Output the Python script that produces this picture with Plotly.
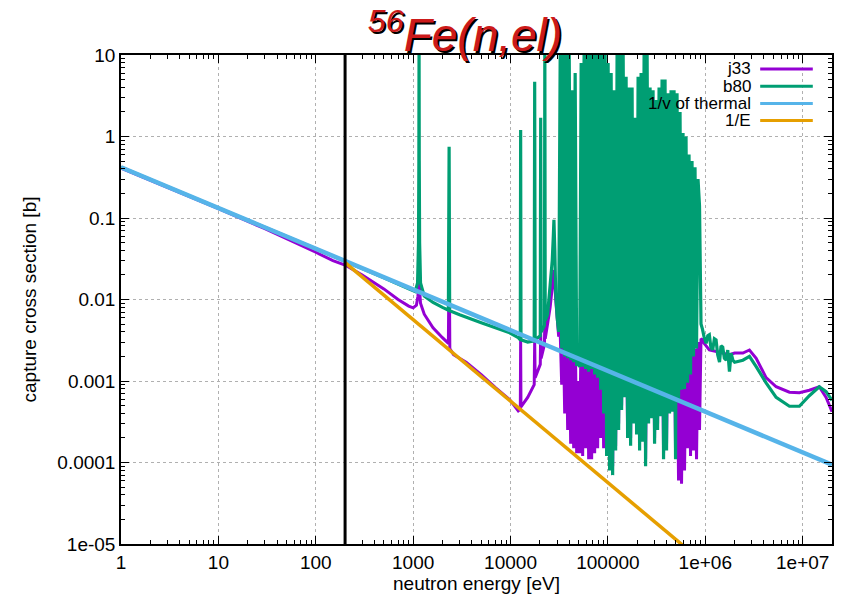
import plotly.graph_objects as go

# ---------------- data ----------------
j33_low_E = [1, 10, 30, 100, 150, 200, 300, 500, 700, 900, 1000, 1080, 1120, 1140, 1150, 1160, 1190,
             1300, 1600, 2000, 2300, 2345, 2380, 2600, 3500, 5000, 7000, 9800, 12000, 12600, 12700,
             12800, 15000, 17500, 17700, 17900, 20200, 20400, 20600, 22300, 22500, 22700, 24000,
             25500, 26800, 27500, 27900, 28500]
j33_low_s = [0.41, 0.13, 0.074, 0.038, 0.030, 0.0265, 0.020, 0.0135, 0.010, 0.0083, 0.0079, 0.0085,
             0.011, 0.016, 0.019, 0.014, 0.009, 0.0066, 0.0045, 0.0034, 0.0029, 0.05, 0.0025, 0.0021,
             0.0017, 0.0012, 0.00083, 0.00059, 0.00043, 0.00045, 0.0032, 0.00048, 0.00063, 0.0009,
             0.003, 0.0011, 0.0016, 0.004, 0.0019, 0.0028, 0.006, 0.0033, 0.005, 0.008, 0.014, 0.02,
             0.023, 0.016]

b80_low_E = [1, 10, 100, 200, 500, 900, 1050, 1110, 1135, 1145, 1150, 1155, 1165, 1190, 1300, 1600,
             2000, 2300, 2340, 2370, 3000, 5000, 7000, 9800, 12000, 12600, 12700, 12800, 15000, 17500,
             17700, 17900, 20200, 20400, 20600, 22300, 22500, 22700, 24000, 25500, 26800, 27500,
             27900, 28500]
b80_low_s = [0.42, 0.133, 0.042, 0.0295, 0.0185, 0.0135, 0.0125, 0.016, 0.05, 0.5, 15, 0.5, 0.05,
             0.016, 0.011, 0.0092, 0.0080, 0.0074, 0.75, 0.0073, 0.0065, 0.0052, 0.0045, 0.0039,
             0.0034, 0.0032, 1.2, 0.0032, 0.003, 0.0031, 4.7, 0.0032, 0.0036, 1.7, 0.004, 0.0048, 15,
             0.0055, 0.0065, 0.015, 0.03, 0.06, 0.095, 0.04]

dense_E_keV = [29.08, 30.13, 31.22, 32.34, 33.51, 34.72, 35.97, 37.27, 38.61, 40.00,
               41.45, 42.94, 44.49, 46.09, 47.76, 49.48, 51.26, 53.11, 55.03, 57.01,
               59.07, 61.20, 63.40, 65.69, 68.06, 70.51, 73.06, 75.69, 78.42, 81.25,
               84.18, 87.21, 90.36, 93.62, 96.99, 100.5, 104.1, 107.9, 111.8, 115.8,
               120.0, 124.3, 128.8, 133.4, 138.2, 143.2, 148.4, 153.7, 159.3, 165.0,
               171.0, 177.1, 183.5, 190.1, 197.0, 204.1, 211.5, 219.1, 227.0, 235.2,
               243.6, 252.4, 261.5, 270.9, 280.7, 290.8, 301.3, 312.2, 323.5, 335.1,
               347.2, 359.7, 372.7, 386.1, 400.0, 414.5, 429.4, 444.9, 460.9, 477.6,
               494.8, 512.6, 531.1, 550.3, 570.1, 590.7, 612.0, 634.0, 656.9, 680.6,
               705.1, 730.5, 756.9, 784.2, 812.4, 841.7, 872.1, 903.5, 936.1, 969.8]

b80_dense_s = [0.012, 0.006, 0.004, 10, 0.0025, 15, 0.002, 15, 0.0019, 15,
               0.0018, 3.7, 0.0017, 6, 0.0016, 0.0016, 0.0015, 8, 0.0015, 15,
               0.0014, 15, 0.0013, 15, 0.0014, 15, 0.0012, 15, 0.0011, 15,
               7.8e-4, 15, 4e-4, 12, 1.2e-4, 8, 8e-5, 6, 7e-5, 3.7,
               1.4e-4, 15, 2.5e-4, 15, 4.4e-4, 15, 6.3e-4, 5.4, 2e-4, 4,
               1.6e-4, 4, 3e-4, 1.7, 2.2e-4, 5.4, 1.4e-4, 6, 1.8e-4, 10,
               9e-5, 15, 3e-4, 4, 3.5e-4, 3.7, 1.7e-4, 2.8, 2.5e-4, 4,
               3.7e-4, 5, 1.1e-4, 5, 1.4e-4, 3.4, 4e-4, 3.7, 4.2e-4, 3.7,
               1.1e-4, 3.4, 6e-4, 2, 7.8e-4, 1.1, 8e-4, 1.0, 9.5e-4, 0.6,
               1.2e-3, 0.5, 2e-3, 0.42, 2.5e-3, 0.3, 0.14, 0.005, 0.0043, 0.0035]

j33_dense_s = [0.01, 0.006, 0.0035, 0.004, 9e-4, 0.005, 4e-4, 0.005, 2.5e-4, 0.006,
               1.7e-4, 0.004, 1.5e-4, 0.005, 1.3e-4, 0.001, 1.3e-4, 0.005, 1.2e-4, 0.006,
               1.5e-4, 0.006, 1.1e-4, 0.006, 1.1e-4, 0.006, 1.3e-4, 0.006, 1.5e-4, 0.006,
               2e-4, 0.008, 1.5e-4, 0.008, 1.3e-4, 0.008, 1e-4, 0.008, 9e-5, 0.006,
               1.6e-4, 0.01, 3e-4, 0.01, 5e-4, 0.01, 7e-4, 0.008, 2.5e-4, 0.008,
               2e-4, 0.008, 3.5e-4, 0.005, 2.8e-4, 0.008, 1.8e-4, 0.008, 2.2e-4, 0.01,
               1.1e-4, 0.01, 3.5e-4, 0.008, 4e-4, 0.008, 2e-4, 0.006, 3e-4, 0.008,
               4.3e-4, 0.008, 1.3e-4, 0.008, 1.7e-4, 0.006, 4.5e-4, 0.006, 4.5e-4, 0.006,
               1.3e-4, 0.004, 6e-5, 0.003, 5.5e-5, 0.003, 8e-5, 0.003, 1.5e-4, 0.003,
               1.2e-4, 0.0025, 1.4e-4, 0.0025, 1.1e-4, 0.003, 2.5e-4, 0.0033, 0.0032, 0.0029]

b80_fast_E_MeV = [1.02, 1.06, 1.10, 1.14, 1.19, 1.24, 1.29, 1.34, 1.40, 1.45, 1.51, 1.57, 1.64,
                  1.70, 1.77, 1.84, 1.92, 2.0, 2.43, 2.84, 3.33, 4.21, 5.34, 7.31, 9.25, 11.7,
                  14.8, 17.4, 20.0]
b80_fast_s = [0.0029, 0.0036, 0.0037, 0.0026, 0.0024, 0.0033, 0.0032, 0.0021, 0.0017, 0.0027,
              0.0026, 0.0019, 0.0018, 0.0024, 0.0013, 0.0022, 0.0018, 0.0017, 0.0018, 0.0020,
              0.0015, 9.5e-4, 6.3e-4, 4.9e-4, 4.9e-4, 6.6e-4, 8.5e-4, 7.4e-4, 5.8e-4]
j33_fast_E_MeV = [1.02, 1.10, 1.3, 1.5, 1.77, 2.0, 2.43, 2.84, 3.33, 4.21, 5.34, 7.31, 9.25, 11.7,
                  14.8, 17.4, 20.0]
j33_fast_s = [0.0027, 0.0024, 0.0023, 0.0022, 0.0021, 0.0022, 0.0022, 0.0024, 0.0019, 0.0011,
              8.5e-4, 7.3e-4, 7.2e-4, 7.7e-4, 8.5e-4, 6.3e-4, 4.2e-4]

thermal_E = [1, 2e7]
thermal_s = [0.42, 9.4e-5]
invE_E = [200, 1e6]
invE_s = [0.0283, 5.66e-6]
cut_E = [200, 200]
cut_s = [1e-5, 10]

names = ["j33", "b80", "1/v of thermal", "1/E"]
colors = ["#9400d3", "#009e73", "#56b4e9", "#e69f00"]
widths = [3, 3.2, 4.5, 3.5]

xtick_vals = [1, 10, 100, 1000, 10000, 100000, 1e6, 1e7]
xtick_text = ["1", "10", "100", "1000", "10000", "100000", "1e+06", "1e+07"]
ytick_vals = [1e-5, 1e-4, 1e-3, 1e-2, 1e-1, 1, 10]
ytick_text = ["1e-05", "0.0001", "0.001", "0.01", "0.1", "1", "10"]

j33_E = j33_low_E + [e * 1e3 for e in dense_E_keV] + [e * 1e6 for e in j33_fast_E_MeV]
j33_s = j33_low_s + j33_dense_s + j33_fast_s
b80_E = b80_low_E + [e * 1e3 for e in dense_E_keV] + [e * 1e6 for e in b80_fast_E_MeV]
b80_s = b80_low_s + b80_dense_s + b80_fast_s

series = [(j33_E, j33_s), (b80_E, b80_s), (thermal_E, thermal_s), (invE_E, invE_s)]

FONT = "Liberation Sans, Arial, sans-serif"
fig = go.Figure()
for (xs, ys), n, c, w in zip(series, names, colors, widths):
    fig.add_trace(go.Scatter(x=xs, y=ys, mode="lines", name=n, showlegend=False,
                             line=dict(color=c, width=w, simplify=False)))
fig.add_trace(go.Scatter(x=cut_E, y=cut_s, mode="lines", showlegend=False,
                         line=dict(color="black", width=3)))

leg_text_x = 0.8875
leg_line_x0, leg_line_x1 = 0.899, 0.973
leg_y0, leg_dy = 0.9714, 0.0352
for i, (n, c) in enumerate(zip(names, colors)):
    yy = leg_y0 - i * leg_dy
    fig.add_annotation(x=leg_text_x, y=yy, xref="paper", yref="paper", text=n,
                       showarrow=False, xanchor="right", yanchor="middle", borderpad=0,
                       font=dict(family=FONT, size=17, color="black"))
    fig.add_shape(type="line", xref="paper", yref="paper", x0=leg_line_x0, x1=leg_line_x1,
                  y0=yy, y1=yy, line=dict(color=c, width=3))


def minor_positions(lo, hi):
    out = []
    for p in range(lo, hi):
        for m in range(2, 10):
            out.append(m * 10.0 ** p)
    return out


axis_common = dict(type="log", showline=True, linecolor="black", linewidth=1.5, mirror="allticks",
                   ticks="inside", ticklen=8, tickcolor="#000000", tickwidth=1.3,
                   showgrid=True, gridcolor="#b0b0b0", griddash="dot", gridwidth=1,
                   zeroline=False, tickfont=dict(family=FONT, size=19, color="black"))

fig.update_layout(
    width=849, height=600,
    margin=dict(l=121, r=17, t=55, b=56),
    paper_bgcolor="white", plot_bgcolor="white",
    font=dict(family=FONT, size=19, color="black"),
    title=dict(text="<sup>56</sup>Fe(n,el)", x=465 / 849, xref="container", xanchor="center",
               y=1 - 35 / 600, yref="container", yanchor="middle",
               font=dict(family=FONT, size=46, color="#cc1a1a", style="italic",
                         shadow="2px 2px 0px #000000")),
    xaxis=dict(axis_common, range=[0, 7.301], tickvals=xtick_vals, ticktext=xtick_text,
               minor=dict(tickmode="array", tickvals=minor_positions(0, 8), ticks="inside",
                          ticklen=4, tickcolor="#000000", tickwidth=1.1, showgrid=False),
               title=dict(text="neutron energy [eV]", standoff=3,
                          font=dict(family=FONT, size=19, color="black"))),
    yaxis=dict(axis_common, range=[-5, 1], tickvals=ytick_vals, ticktext=ytick_text,
               minor=dict(tickmode="array", tickvals=minor_positions(-5, 1), ticks="inside",
                          ticklen=4, tickcolor="#000000", tickwidth=1.1, showgrid=False),
               title=dict(text="capture cross section [b]", standoff=16,
                          font=dict(family=FONT, size=19, color="black"))),
)

fig.write_html("out.html")
